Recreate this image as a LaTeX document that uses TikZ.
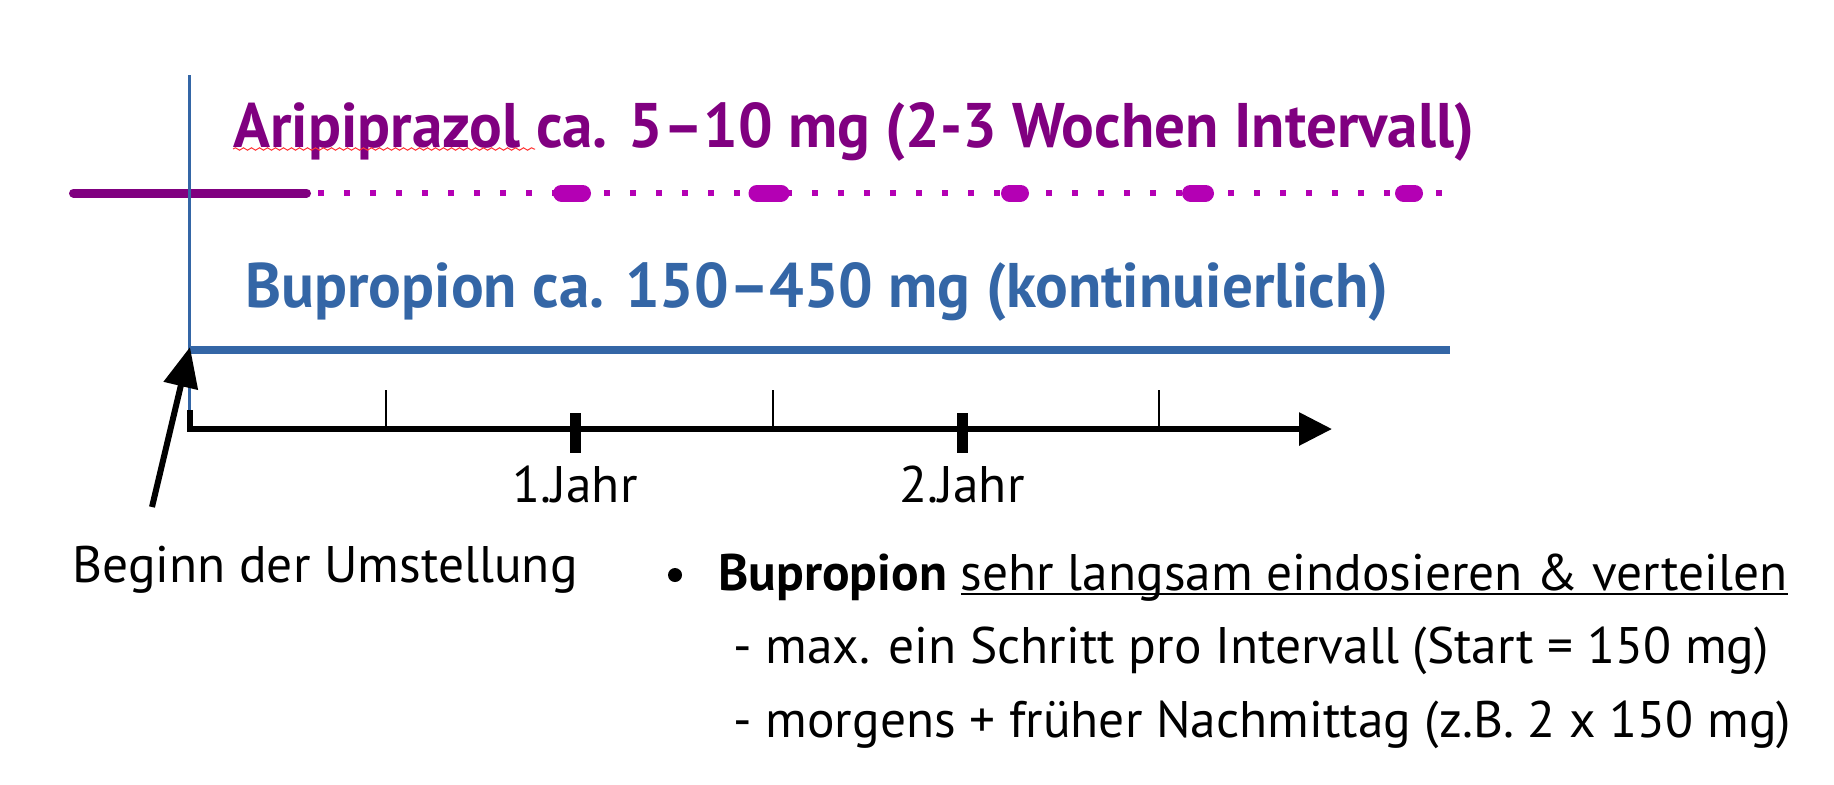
\documentclass[tikz,border=0pt]{standalone}
\usepackage{fontspec}
\setmainfont{PT Sans}
\newfontfamily\titlefont[FakeStretch=0.97]{PT Sans}
\usetikzlibrary{arrows.meta,decorations.pathmorphing}
\definecolor{arippurple}{RGB}{128,0,128}
\definecolor{dotpurple}{RGB}{180,0,180}
\definecolor{bupblue}{RGB}{52,102,166}
\newcommand\lineunder[1]{\setbox0\hbox{#1}\rlap{\rule[-2.6pt]{\wd0}{1.3pt}}\box0}

\begin{document}
\begin{tikzpicture}[x=0.5pt,y=-0.5pt,
    title/.style={font=\titlefont\fontsize{31.5}{36}\selectfont\bfseries,inner sep=0pt,anchor=base west},
    body/.style={font=\fontsize{25.7}{30}\selectfont,inner sep=0pt,anchor=base west}]
        \useasboundingbox (0,0) rectangle (1834,784);
        % aripiprazol: solid until switch, then dotted with injections
        \draw[arippurple,line width=4.5pt,line cap=round] (73.5,193) -- (306.5,193);
        \draw[dotpurple,line width=3pt,dash pattern=on 3pt off 10pt] (318,193) -- (1445,193);
        \foreach \x/\w in {572/38,769/41,1015/28,1198/32,1409/28}
            \draw[dotpurple,line width=8.5pt,line cap=round] (\x-\w/2+8.5,193) -- (\x+\w/2-8.5,193);
        % start line and bupropion
        \draw[bupblue,line width=1.5pt] (189,75) -- (189,410);
        \draw[bupblue,line width=4pt] (189,350) -- (1450,350);
        % titles
        \node[title,text=arippurple] (arip) at (233,147) {Aripiprazol ca. 5–10 mg (2-3 Wochen Intervall)};
        \node[title,text=bupblue] (bup) at (245,307) {Bupropion ca. 150–450 mg (kontinuierlich)};
        \draw[red!80,line width=0.5pt,decorate,decoration={snake,amplitude=0.6pt,segment length=4pt}] (233,149) -- (535,149);
        % declare points for axis and arrow
        \coordinate (corner) at (190,410);
        \coordinate (origin) at (190,429);
        \coordinate (axisend) at (1332,429);
        \coordinate (tail) at (152,507);
        \coordinate (start) at (190,347);
        % time axis
        \draw[line width=3pt,-{Triangle[length=16.5pt,width=16pt]}] (corner) -- (origin) -- (axisend);
        \foreach \x in {386,773,1159}
            \draw[line width=1pt] (\x,390) -- (\x,429);
        \foreach \x/\n in {575/1,962/2} {
            \draw[line width=5.5pt] (\x,413) -- (\x,453);
            \node[body,anchor=base] (jahr\n) at (\x,502) {\n.Jahr};
        }
        % begin arrow
        \draw[line width=3pt,-{Triangle[length=20pt,width=17pt]}] (tail) -- (start);
        \node[body] (beginn) at (72,582) {Beginn der Umstellung};
        % notes
        \node[circle,fill,inner sep=0pt,minimum size=7pt] (bullet) at (675,575) {};
        \node[body] (item) at (718,590) {\textbf{Bupropion} \lineunder{sehr langsam eindosieren \& verteilen}};
        \node[body] (stepline) at (733,663) {- max. ein Schritt pro Intervall (Start = 150 mg)};
        \node[body] (doseline) at (733,737) {- morgens + früher Nachmittag (z.B. 2 x 150 mg)};
\end{tikzpicture}
\end{document}
